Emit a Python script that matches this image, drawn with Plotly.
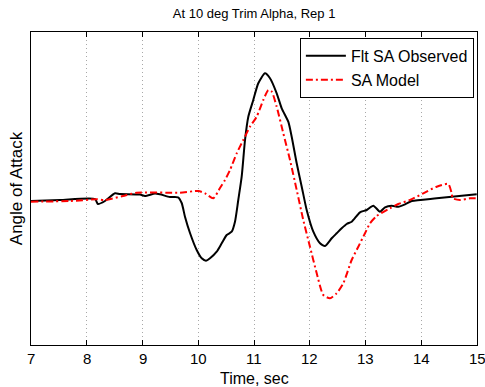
import plotly.graph_objects as go

# Time (s) and angle-of-attack values (arbitrary degrees scale)
obs_t = [7.00, 7.52, 8.148, 8.20, 8.327, 8.507, 8.596, 8.955, 9.045, 9.224, 9.314, 9.493, 9.637,
         9.703, 9.762, 9.852, 9.972, 10.062, 10.139, 10.211, 10.331, 10.421, 10.510, 10.600,
         10.659, 10.718, 10.779, 10.839, 10.898, 10.987, 11.077, 11.197, 11.287, 11.407,
         11.497, 11.615, 11.676, 11.766, 11.856, 11.945, 12.064, 12.184, 12.274, 12.394,
         12.483, 12.573, 12.663, 12.752, 12.901, 13.022, 13.140, 13.260, 13.350, 13.470,
         13.588, 13.709, 13.829, 14.277, 14.995]
obs_a = [14.40, 14.50, 14.60, 14.10, 14.40, 15.17, 15.10, 15.05, 14.90, 15.15, 15.07, 14.80, 14.77,
         14.20, 12.83, 11.20, 9.50, 8.67, 8.43, 8.67, 9.33, 10.17, 11.00, 11.33,
         12.33, 14.50, 16.83, 20.50, 22.83, 24.50, 26.17, 27.17, 26.67, 25.17,
         23.67, 22.33, 20.83, 18.17, 15.83, 13.50, 11.33, 10.17, 9.90, 10.67,
         11.17, 11.67, 12.10, 12.33, 13.27, 13.50, 13.93, 13.33, 13.77, 13.93,
         13.83, 14.07, 14.40, 14.67, 15.07]

mod_t = [7.00, 7.70, 8.178, 8.327, 8.650, 8.896, 9.673, 10.001, 10.121, 10.270, 10.390, 10.480,
         10.570, 10.690, 10.808, 10.928, 11.048, 11.167, 11.257, 11.318, 11.407, 11.526,
         11.646, 11.766, 11.884, 12.004, 12.125, 12.243, 12.363, 12.483, 12.602, 12.752,
         12.871, 12.991, 13.081, 13.201, 13.439, 13.588, 13.798, 14.037, 14.277, 14.485,
         14.546, 14.564, 14.695, 14.874, 14.982]
mod_a = [14.33, 14.40, 14.57, 14.50, 14.90, 15.23, 15.23, 15.40, 15.17, 14.67, 15.70, 16.50,
         17.50, 19.17, 20.50, 21.83, 22.83, 24.50, 25.50, 25.33, 23.83, 21.17,
         18.50, 15.50, 12.50, 9.83, 7.17, 5.00, 4.67, 5.17, 6.17, 8.50,
         9.83, 11.17, 12.17, 12.90, 13.67, 14.10, 14.50, 15.17, 15.83, 16.10,
         15.17, 14.67, 14.50, 14.67, 14.67]

x_ticks = [7, 8, 9, 10, 11, 12, 13, 14, 15]
x_tick_labels = ["7", "8", "9", "10", "11", "12", "13", "14", "15"]

FONT = "Liberation Sans, Arial, sans-serif"

fig = go.Figure()
fig.add_trace(go.Scatter(x=obs_t, y=obs_a, mode="lines", name="Flt SA Observed",
                         line=dict(color="black", width=2, shape="spline", smoothing=0.6)))
fig.add_trace(go.Scatter(x=mod_t, y=mod_a, mode="lines", name="SA Model",
                         line=dict(color="red", width=2, dash="7px,3px,2px,3px",
                                   shape="spline", smoothing=0.6)))

# tick labels as unclipped annotations (the last one overflows the right edge in the original)
for tv, tl in zip(x_ticks, x_tick_labels):
    fig.add_annotation(x=tv, y=0, yref="paper", xref="x", text=tl,
                       showarrow=False, yanchor="middle", xanchor="center", yshift=-13,
                       borderpad=0, font=dict(size=15, family=FONT, color="black"))
# x-axis title placed as annotation to match the tight spacing of the original
fig.add_annotation(x=0.5, y=0, yref="paper", xref="paper", text="Time, sec",
                   showarrow=False, yanchor="middle", xanchor="center", yshift=-33,
                   borderpad=0, font=dict(size=16, family=FONT, color="black"))

fig.update_layout(
    width=485, height=387,
    margin=dict(l=31, r=8, t=32, b=42),
    paper_bgcolor="white", plot_bgcolor="white",
    font=dict(family=FONT, size=15, color="black"),
    title=dict(text="At 10 deg Trim Alpha, Rep 1", font=dict(size=13), x=0.524, xanchor="center",
               y=1 - 13/387, yanchor="middle"),
    showlegend=True,
    legend=dict(x=0.993, y=0.981, xanchor="right", yanchor="top",
                bgcolor="white", bordercolor="black", borderwidth=1,
                font=dict(size=16), itemwidth=40, tracegroupgap=0),
    xaxis=dict(range=[7, 15], tickvals=x_ticks, showticklabels=False,
               ticks="inside", ticklen=5, tickcolor="black", mirror="ticks",
               showline=True, linecolor="black", linewidth=1,
               showgrid=True, gridcolor="#a8a8a8", griddash="1px,3px", gridwidth=1,
               zeroline=False),
    yaxis=dict(range=[0, 31.3], showticklabels=False, ticks="", showgrid=False,
               showline=True, linecolor="black", linewidth=1, mirror=True, zeroline=False,
               title=dict(text="Angle of Attack", font=dict(size=17), standoff=3)),
)

fig.write_html("out.html")
